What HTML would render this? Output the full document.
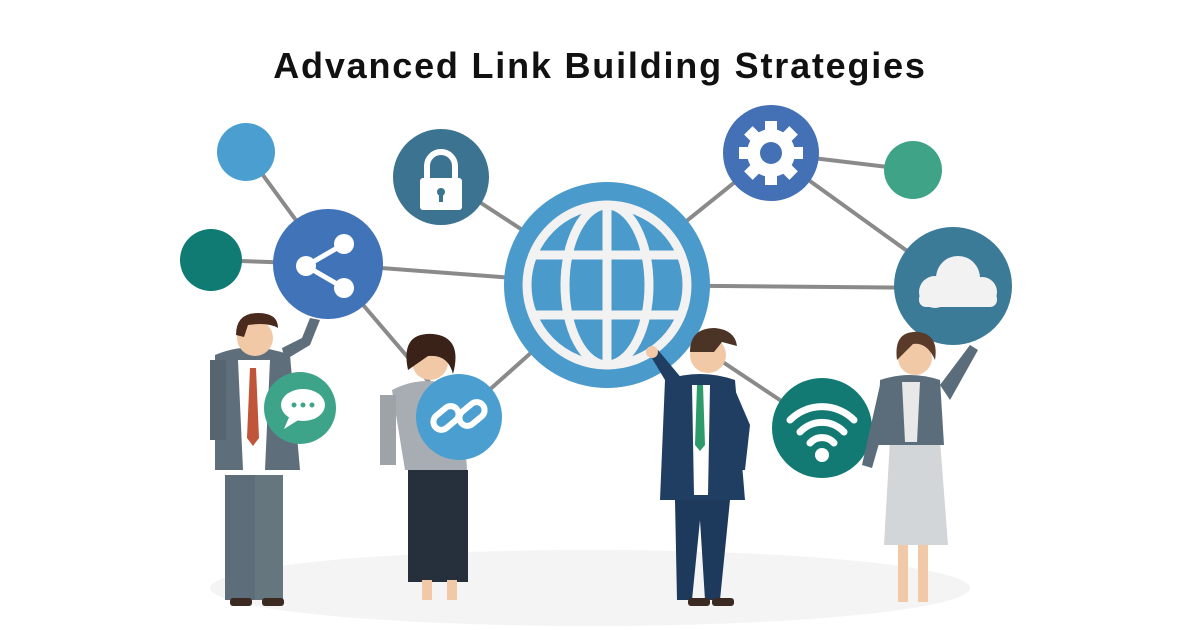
<!DOCTYPE html>
<html><head><meta charset="utf-8"><style>
html,body{margin:0;padding:0;background:#fff;}
svg{display:block}
</style></head><body>
<svg width="1200" height="630" viewBox="0 0 1200 630" xmlns="http://www.w3.org/2000/svg">
<rect width="1200" height="630" fill="#fff"/>
<text x="600" y="78" text-anchor="middle" font-family="Liberation Sans, sans-serif" font-weight="bold" font-size="36" letter-spacing="1.8" fill="#111">Advanced Link Building Strategies</text>
<ellipse cx="590" cy="588" rx="380" ry="38" fill="#f4f4f4"/>
<g stroke="#8a8a8a" stroke-width="4">
<line x1="246" y1="152" x2="328" y2="264"/>
<line x1="211" y1="260" x2="328" y2="264"/>
<line x1="328" y1="264" x2="607" y2="285"/>
<line x1="328" y1="264" x2="459" y2="417"/>
<line x1="441" y1="177" x2="607" y2="285"/>
<line x1="607" y1="285" x2="771" y2="153"/>
<line x1="771" y1="153" x2="913" y2="170"/>
<line x1="771" y1="153" x2="953" y2="284"/>
<line x1="607" y1="285" x2="953" y2="288"/>
<line x1="607" y1="285" x2="822" y2="428"/>
<line x1="459" y1="417" x2="607" y2="285"/>
</g>
<circle cx="246" cy="152" r="29" fill="#4a9fd0"/>
<circle cx="211" cy="260" r="31" fill="#0f7b73"/>
<circle cx="913" cy="170" r="29" fill="#3fa487"/>
<!-- share -->
<circle cx="328" cy="264" r="55" fill="#4173b8"/>
<g fill="#fff" stroke="#fff" stroke-width="5"><line x1="306" y1="266" x2="344" y2="244"/><line x1="306" y1="266" x2="344" y2="288"/></g>
<circle cx="306" cy="266" r="10" fill="#fff"/><circle cx="344" cy="244" r="10" fill="#fff"/><circle cx="344" cy="288" r="10" fill="#fff"/>
<!-- lock -->
<circle cx="441" cy="177" r="48" fill="#3c7391"/>
<path d="M427 180 v-14 a14 14 0 0 1 28 0 v14" fill="none" stroke="#fff" stroke-width="6"/>
<rect x="420" y="178" width="42" height="32" rx="3" fill="#fff"/>
<circle cx="441" cy="192" r="4" fill="#3c7391"/><rect x="439" y="192" width="4" height="10" fill="#3c7391"/>
<!-- globe -->
<circle cx="607" cy="285" r="103" fill="#4a9acc"/>
<g fill="none" stroke="#f2f2f2" stroke-width="9">
<circle cx="607" cy="285" r="80"/>
<ellipse cx="607" cy="285" rx="42" ry="80"/>
<line x1="607" y1="205" x2="607" y2="365"/>
<line x1="535" y1="255" x2="679" y2="255"/>
<line x1="535" y1="315" x2="679" y2="315"/>
</g>
<!-- gear -->
<circle cx="771" cy="153" r="48" fill="#4470b5"/>
<g fill="#fff"><circle cx="771" cy="153" r="24"/>
<g transform="translate(771 153)">
<rect x="-6" y="-32" width="12" height="64"/><rect x="-32" y="-6" width="64" height="12"/>
<rect x="-6" y="-32" width="12" height="64" transform="rotate(45)"/><rect x="-6" y="-32" width="12" height="64" transform="rotate(-45)"/>
</g></g>
<circle cx="771" cy="153" r="11" fill="#4470b5"/>
<!-- cloud -->
<circle cx="953" cy="286" r="59" fill="#3b7b98"/>
<g fill="#f2f2f2"><circle cx="935" cy="292" r="16"/><circle cx="958" cy="278" r="22"/><circle cx="982" cy="292" r="15"/><rect x="919" y="292" width="78" height="15" rx="7"/></g>
<!-- wifi -->
<circle cx="822" cy="428" r="50" fill="#127a72"/>
<g fill="none" stroke="#fff" stroke-width="7" stroke-linecap="round">
<path d="M790 420 a45 45 0 0 1 64 0"/><path d="M800 432 a30 30 0 0 1 44 0"/><path d="M810 443 a16 16 0 0 1 24 0"/></g>
<circle cx="822" cy="455" r="7" fill="#fff"/>
<!-- man1 -->
<g>
<rect x="225" y="475" width="30" height="125" fill="#5d6d7a"/><rect x="255" y="475" width="28" height="125" fill="#66767f"/>
<path d="M215 355 q35 -15 75 0 l10 115 h-85z" fill="#5f6e7b"/>
<path d="M238 360 h32 l-5 110 h-22z" fill="#fff"/>
<path d="M250 368 l6 0 l3 70 l-6 8 l-6 -8z" fill="#c0553a"/>
<path d="M285 360 l25 -15 l10 -25 l-10 -2 l-8 20 l-20 10z" fill="#5f6e7b"/>
<rect x="210" y="360" width="16" height="80" fill="#56656f"/>
<circle cx="255" cy="338" r="18" fill="#f2c9a6"/>
<path d="M236 335 q0 -22 22 -22 q20 0 20 15 q-10 -6 -30 -3 l-4 12z" fill="#4a2a1c"/>
<rect x="230" y="598" width="22" height="8" rx="3" fill="#3a2a22"/><rect x="262" y="598" width="22" height="8" rx="3" fill="#3a2a22"/>
</g>
<!-- chat -->
<circle cx="300" cy="408" r="36" fill="#3da489"/>
<ellipse cx="303" cy="405" rx="22" ry="16" fill="#fff"/><path d="M290 415 l-6 14 l16 -10z" fill="#fff"/>
<g fill="#3da489"><circle cx="294" cy="405" r="2.5"/><circle cx="303" cy="405" r="2.5"/><circle cx="312" cy="405" r="2.5"/></g>
<!-- woman1 -->
<g>
<rect x="408" y="470" width="60" height="112" fill="#26303d"/>
<path d="M392 390 q35 -18 70 0 l5 80 h-62z" fill="#a8adb3"/>
<rect x="380" y="395" width="16" height="70" fill="#9ea3a8"/>
<circle cx="430" cy="362" r="18" fill="#f2c9a6"/>
<path d="M408 370 q-8 -38 25 -36 q30 3 20 40 q-5 -20 -25 -18z" fill="#3a2218"/>
<rect x="422" y="580" width="10" height="20" fill="#f2c9a6"/><rect x="447" y="580" width="10" height="20" fill="#f2c9a6"/>
</g>
<!-- link circle -->
<circle cx="459" cy="417" r="43" fill="#4a9fd0"/>
<g fill="none" stroke="#fff" stroke-width="6">
<rect x="432" y="410" width="28" height="16" rx="8" transform="rotate(-40 446 418)"/>
<rect x="458" y="406" width="28" height="16" rx="8" transform="rotate(-40 472 414)"/></g>
<!-- man2 -->
<g>
<path d="M675 500 h55 l-10 100 h-15 l-5 -80 l-8 80 h-15z" fill="#1d3a5c"/>
<path d="M665 380 q35 -12 70 0 l10 120 h-85z" fill="#1f3e62"/>
<path d="M692 385 h18 l-2 110 h-14z" fill="#fff"/>
<path d="M697 385 h6 l2 60 l-5 6 l-5 -6z" fill="#2e9b6a"/>
<path d="M668 385 l-18 -30 l8 -5 l25 30z" fill="#1f3e62"/>
<path d="M735 390 l15 35 l-5 45 l-10 0 l2 -40 z" fill="#1f3e62"/>
<circle cx="708" cy="355" r="18" fill="#f2c9a6"/>
<path d="M690 352 q0 -24 25 -24 q20 2 22 18 l-15 -4 l-8 10z" fill="#4b3325"/>
<circle cx="652" cy="352" r="6" fill="#f2c9a6"/>
<rect x="688" y="598" width="22" height="8" rx="3" fill="#3a2a22"/><rect x="712" y="598" width="22" height="8" rx="3" fill="#3a2a22"/>
</g>
<!-- woman2 -->
<g>
<rect x="898" y="540" width="10" height="62" fill="#f2c9a6"/><rect x="918" y="540" width="10" height="62" fill="#f2c9a6"/>
<path d="M890 440 h50 l8 105 h-64z" fill="#d2d6d8"/>
<path d="M880 380 q30 -10 60 0 l4 65 h-66z" fill="#5b6d7a"/>
<path d="M902 382 h18 l-3 60 h-12z" fill="#e8e8e8"/>
<path d="M880 385 l-18 80 l10 3 l20 -70z" fill="#5b6d7a"/>
<path d="M940 385 l30 -40 l8 5 l-28 50z" fill="#5b6d7a"/>
<circle cx="915" cy="358" r="17" fill="#f2c9a6"/>
<path d="M897 360 q-4 -30 22 -28 q20 3 16 28 q-8 -18 -22 -16z" fill="#5a3b2a"/>
</g>
</svg>
</body></html>
